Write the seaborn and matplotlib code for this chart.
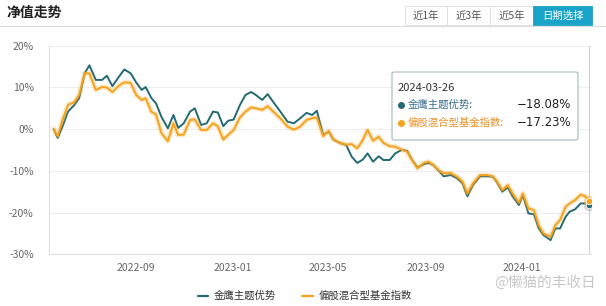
import matplotlib
matplotlib.use("Agg")
import matplotlib.pyplot as plt
import matplotlib.dates as mdates
import matplotlib.patheffects as pe
from matplotlib.patches import FancyBboxPatch, Rectangle
import seaborn as sns
import pandas as pd

dates = [
    "2022-05-20", "2022-05-25", "2022-05-31", "2022-06-07", "2022-06-15", "2022-06-21",
    "2022-06-28", "2022-07-04", "2022-07-12", "2022-07-20", "2022-07-26", "2022-08-02",
    "2022-08-10", "2022-08-17", "2022-08-25", "2022-09-01", "2022-09-08", "2022-09-13",
    "2022-09-20", "2022-09-26", "2022-10-03", "2022-10-11", "2022-10-18", "2022-10-24",
    "2022-10-31", "2022-11-08", "2022-11-14", "2022-11-22", "2022-11-29", "2022-12-07",
    "2022-12-13", "2022-12-20", "2022-12-26", "2023-01-02", "2023-01-10", "2023-01-17",
    "2023-01-24", "2023-01-30", "2023-02-07", "2023-02-14", "2023-02-21", "2023-03-02",
    "2023-03-11", "2023-03-19", "2023-03-27", "2023-04-04", "2023-04-11", "2023-04-17",
    "2023-04-25", "2023-05-02", "2023-05-08", "2023-05-16", "2023-05-24", "2023-05-31",
    "2023-06-07", "2023-06-14", "2023-06-20", "2023-06-27", "2023-07-04", "2023-07-10",
    "2023-07-18", "2023-07-25", "2023-08-02", "2023-08-09", "2023-08-15", "2023-08-22",
    "2023-08-30", "2023-09-05", "2023-09-11", "2023-09-19", "2023-09-24", "2023-10-03",
    "2023-10-11", "2023-10-18", "2023-10-24", "2023-10-31", "2023-11-09", "2023-11-18",
    "2023-11-25", "2023-11-30", "2023-12-07", "2023-12-14", "2023-12-20", "2023-12-28",
    "2024-01-02", "2024-01-09", "2024-01-16", "2024-01-22", "2024-01-28", "2024-02-06",
    "2024-02-12", "2024-02-18", "2024-02-25", "2024-03-01", "2024-03-08", "2024-03-15",
    "2024-03-21", "2024-03-26",
]

fund = [
    0.0, -2.1, 0.6, 4.2, 5.8, 7.4, 13.4, 15.3, 11.8, 11.8, 12.8, 10.3,
    12.5, 14.3, 13.4, 11.2, 9.4, 10.1, 7.5, 6.2, 2.9, 0.2, 3.4, 0.3,
    1.4, 4.2, 5.0, 1.0, 1.4, 4.2, 4.0, 0.7, 2.0, 2.3, 5.8, 8.2,
    8.9, 8.2, 7.0, 8.4, 6.5, 4.2, 1.8, 1.4, 2.6, 3.9, 3.4, 4.4,
    -1.4, -0.6, -2.5, -3.3, -3.8, -6.6, -8.1, -7.3, -5.8, -7.8, -6.5, -7.4,
    -7.4, -5.8, -5.0, -5.2, -7.3, -9.2, -8.4, -8.1, -8.6, -10.2, -11.3, -11.0,
    -11.8, -13.0, -16.1, -13.4, -11.3, -11.3, -11.4, -12.6, -15.0, -14.0, -16.1, -18.2,
    -15.8, -20.2, -20.4, -23.8, -25.4, -26.6, -23.8, -23.8, -21.0, -19.8, -19.2, -17.8,
    -17.8, -18.08,
]

index = [
    0.0, -1.7, 2.2, 5.8, 6.5, 8.2, 13.4, 13.4, 9.4, 10.1, 10.0, 8.9,
    10.4, 11.2, 11.1, 8.2, 7.0, 7.4, 4.2, 3.5, -1.0, -2.9, 1.4, -1.4,
    -1.3, 2.2, 2.3, -0.2, -0.2, 1.4, 0.7, -2.5, -1.4, -0.2, 2.8, 4.2,
    5.2, 5.0, 4.6, 5.5, 4.2, 2.6, 0.6, -0.1, 0.6, 2.2, 2.6, 2.8,
    -1.7, -0.4, -2.5, -3.3, -3.7, -3.6, -4.6, -2.6, -0.2, -2.8, -1.8, -3.3,
    -4.1, -4.2, -4.9, -5.4, -7.4, -9.4, -8.1, -7.8, -8.6, -10.0, -10.6, -10.5,
    -11.4, -12.6, -15.4, -13.0, -11.0, -11.0, -11.3, -12.4, -14.6, -13.4, -15.4, -17.6,
    -15.4, -19.0, -19.4, -23.0, -25.0, -25.8, -23.0, -21.8, -18.6, -17.8, -17.0, -15.7,
    -16.1, -17.23,
]

series_names = ["金鹰主题优势", "偏股混合型基金指数"]
colors = ["#246a73", "#f5a21f"]
y_ticks = [-30, -20, -10, 0, 10, 20]
x_ticks = ["2022-09-01", "2023-01-01", "2023-05-01", "2023-09-01", "2024-01-01"]
tooltip_date = "2024-03-26"
buttons = ["近1年", "近3年", "近5年", "日期选择"]

sns.set_theme(style="white")
plt.rcParams["font.family"] = ["Noto Sans CJK SC", "DejaVu Sans"]
plt.rcParams["axes.unicode_minus"] = False

df = pd.DataFrame({
    "date": pd.to_datetime(dates * 2),
    "value": fund + index,
    "series": [series_names[0]] * len(fund) + [series_names[1]] * len(index),
})

fig = plt.figure(figsize=(6.06, 3.06), dpi=100)
fig.patch.set_facecolor("white")
ax = fig.add_axes([49 / 606, 1 - 254.3 / 306, (591 - 49) / 606, (254.3 - 45.7) / 306])

sns.lineplot(data=df, x="date", y="value", hue="series", hue_order=series_names,
             palette=colors, ax=ax, legend=False, linewidth=1.4)
lines = ax.get_lines()
lines[0].set_zorder(3)
lines[1].set_zorder(4)
lines[1].set_path_effects([pe.Stroke(linewidth=3.6, foreground="#f5a21f", alpha=0.25), pe.Normal()])

start = pd.Timestamp("2023-01-01")
ax.set_xlim(start - pd.Timedelta(days=232), start + pd.Timedelta(days=452))
ax.set_ylim(-30, 20)
ax.set_yticks(y_ticks)
ax.set_yticklabels([f"{v}%" for v in y_ticks], fontsize=7.5, color="#666666")
ax.set_xticks(pd.to_datetime(x_ticks))
ax.xaxis.set_major_formatter(mdates.DateFormatter("%Y-%m"))
ax.tick_params(axis="x", labelsize=7.5, labelcolor="#666666", length=3, color="#dddddd", pad=6, direction="in")
ax.tick_params(axis="y", length=0, pad=11)
ax.set_xlabel("")
ax.set_ylabel("")
ax.grid(axis="y", color="#eeeeee", linewidth=0.8)
for s in ["top", "right"]:
    ax.spines[s].set_visible(False)
ax.spines["left"].set_color("#e0e0e0")
ax.spines["bottom"].set_color("#e0e0e0")
ax.spines["left"].set_linewidth(0.8)
ax.spines["bottom"].set_linewidth(0.8)

# crosshair and end markers
last = pd.Timestamp(dates[-1])
ax.axvline(last, color="#cfcfcf", linewidth=0.8, zorder=1)
ax.scatter([last], [fund[-1]], s=70, color="#9aa6a8", alpha=0.45, zorder=5, linewidths=0)
ax.scatter([last], [fund[-1]], s=22, color=colors[0], zorder=6, edgecolors="white", linewidths=0.6)
ax.scatter([last], [index[-1]], s=70, color=colors[1], alpha=0.4, zorder=5, linewidths=0)
ax.scatter([last], [index[-1]], s=22, color=colors[1], zorder=6, edgecolors="white", linewidths=0.6)

# header
fig.text(6 / 606, 1 - 13 / 306, "净值走势", fontsize=10, fontweight="bold", color="#222222", va="center")
fig.add_artist(plt.Line2D([0, 1], [1 - 26 / 306, 1 - 26 / 306], color="#dddddd", linewidth=0.8))
bx = [405, 447, 490, 533, 592]
for i, b in enumerate(buttons):
    x0, x1 = bx[i], bx[i + 1]
    active = i == len(buttons) - 1
    fig.add_artist(Rectangle((x0 / 606, 1 - 25 / 306), (x1 - x0) / 606, 19 / 306,
                             transform=fig.transFigure, facecolor="#1aa3c8" if active else "white",
                             edgecolor="#1aa3c8" if active else "#dddddd", linewidth=0.6))
    fig.text((x0 + x1) / 2 / 606, 1 - 15.5 / 306, b, fontsize=7.5, ha="center", va="center",
             color="white" if active else "#555555")

# tooltip
fig.add_artist(FancyBboxPatch((392 / 606, 1 - 140 / 306), 186 / 606, 68 / 306,
                              boxstyle="round,pad=0,rounding_size=0.005", transform=fig.transFigure,
                              facecolor="white", edgecolor="#a9bcc0", linewidth=0.9, alpha=0.95, zorder=10))
fig.text(398 / 606, 1 - 88 / 306, tooltip_date, fontsize=8, color="#333333", va="center", zorder=11)
rows = [(105, series_names[0], fund[-1], colors[0], "#3a6f8f"), (123, series_names[1], index[-1], colors[1], "#e8912a")]
for yy, name, val, c, tc in rows:
    fig.add_artist(plt.Line2D([401 / 606], [1 - yy / 306], marker="o", markersize=4, color=c,
                              transform=fig.transFigure, zorder=11))
    fig.text(408 / 606, 1 - yy / 306, name + ":", fontsize=7.5, color=tc, va="center", zorder=11)
    fig.text(571 / 606, 1 - yy / 306, f"\u2212{abs(val):.2f}%", fontsize=8.5, color="#222222",
             ha="right", va="center", zorder=11, family=["DejaVu Sans"])

# legend
handles = [plt.Line2D([], [], color=c, linewidth=1.6) for c in colors]
fig.legend(handles, series_names, loc="center", bbox_to_anchor=(305 / 606, 1 - 296 / 306), ncol=2,
           frameon=False, fontsize=7.5, handlelength=1.0, columnspacing=2.5, handletextpad=0.6,
           labelcolor="#333333")

# watermark
fig.text(596 / 606, 1 - 283 / 306, "@懒猫的丰收日", fontsize=10.5, color="#c8c8c8", ha="right", va="center")

fig.savefig("out.png", dpi=100, facecolor="white")
